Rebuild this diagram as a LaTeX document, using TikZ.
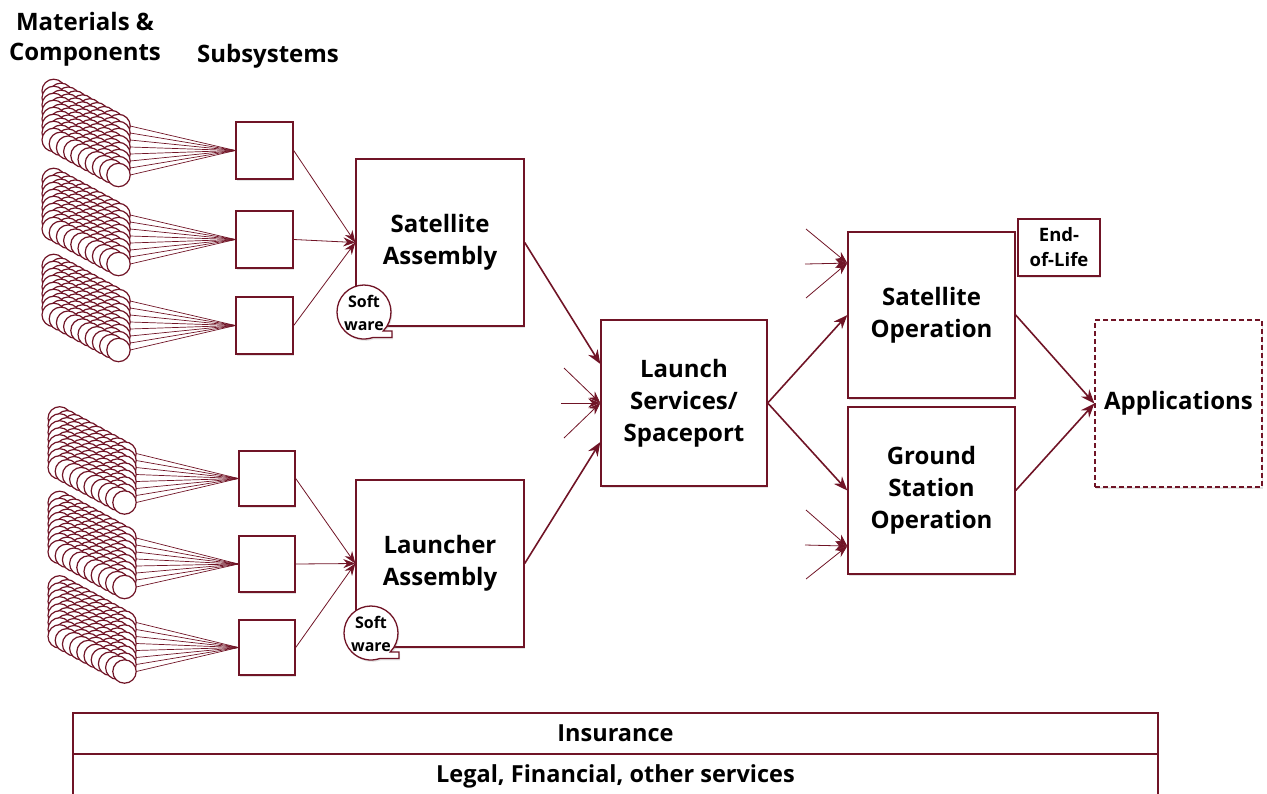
\documentclass[tikz,border=0pt]{standalone}
\usepackage{fontspec}
\setmainfont{Open Sans}
\usetikzlibrary{arrows.meta,shadows,calc}
\definecolor{wine}{RGB}{112,20,38}
\tikzset{
  shade box/.style={drop shadow={shadow xshift=1.2pt, shadow yshift=-1.8pt, opacity=0.22}},
  box/.style={draw=wine, line width=1.4pt, fill=white, inner sep=0pt, align=center,
    font=\bfseries\fontsize{24}{32}\selectfont, shade box},
  subbox/.style={box, minimum width=57pt, minimum height=57pt},
  bigbox/.style={box, minimum width=167pt, minimum height=167pt},
  bar/.style={draw=wine, line width=1.4pt, fill=white, inner sep=0pt,
    minimum width=1085pt, font=\bfseries\fontsize{23.5}{25}\selectfont},
  ball/.style={draw=wine, line width=1.2pt, fill=white},
  fan/.style={draw=wine, line width=0.7pt},
  feed/.style={draw=wine, line width=0.8pt, -{Stealth[length=12pt,width=9pt]}},
  flow/.style={draw=wine, line width=1.6pt, -{Stealth[length=14pt,width=11pt]}},
  heading/.style={align=center, font=\bfseries\fontsize{24}{30}\selectfont, inner sep=0pt},
  bubble/.style={draw=wine, line width=1.3pt, fill=white, shade box},
  bubbletext/.style={align=center, inner sep=0pt, font=\bfseries\fontsize{16}{23}\selectfont},
}
% a block of parts: 8 rows of 10 discs, given the centre of the front disc
\newcommand\ballstack[3]{%
  \foreach \j in {0,...,7}{%
    \foreach \i in {0,...,9}{%
      \draw[ball] ({#1-(9-\i)*7.2},{#2-(9-\i)*3.9-(7-\j)*7}) circle[radius=11.7];
    }%
    \coordinate (#3-\j) at ({#1+11.7},{#2-(7-\j)*7});
  }%
}
% round software tag with a square tab at its lower right
\newcommand\softtag[2]{%
  \path[bubble] (#1) ++(44.7:27) arc[start angle=44.7, end angle=-289.2, radius=27]
    -- ($(#1)+(28,25.5)$) -- ($(#1)+(28,19)$) -- cycle;
  \node[bubbletext] (#2) at ($(#1)+(0,1)$) {Soft\\ware};
}
\begin{document}
\begin{tikzpicture}[x=1pt, y=-1pt]
\useasboundingbox (0,0) rectangle (1267,793);

% headings
\node[heading] (hmat) at (85,39) {Materials \&\\Components};
\node[heading] (hsub) at (268,56) {Subsystems};

% subsystem boxes
\node[subbox] (sub1) at (264.5,150.5) {};
\node[subbox] (sub2) at (264.5,239.5) {};
\node[subbox] (sub3) at (264.5,325.5) {};
\node[subbox, minimum width=56pt, minimum height=55pt] (sub4) at (267,478.5) {};
\node[subbox, minimum width=56pt, minimum height=56pt] (sub5) at (267,564) {};
\node[subbox, minimum width=56pt, minimum height=55pt] (sub6) at (267,647.5) {};

% parts feeding the subsystems
\ballstack{118.5}{175}{pa}
\ballstack{118.5}{264}{pb}
\ballstack{118.5}{350}{pc}
\ballstack{124.5}{502.5}{pd}
\ballstack{124.5}{587}{pe}
\ballstack{124.5}{671.5}{pf}
\foreach \j in {0,...,7}{
  \draw[fan] (pa-\j) -- (sub1.west);
  \draw[fan] (pb-\j) -- (sub2.west);
  \draw[fan] (pc-\j) -- (sub3.west);
  \draw[fan] (pd-\j) -- (sub4.west);
  \draw[fan] (pe-\j) -- (sub5.west);
  \draw[fan] (pf-\j) -- (sub6.west);
}

% main chain
\node[bigbox, minimum width=168pt] (satasm) at (440,242.5) {Satellite\\Assembly};
\node[bigbox, minimum width=168pt] (lchasm) at (440,563.5) {Launcher\\Assembly};
\node[bigbox, minimum width=166pt, minimum height=166pt] (launch) at (684,403) {Launch\\Services/\\Spaceport};
\node[bigbox, minimum height=166pt] (satop) at (931.5,315) {Satellite\\Operation};
\node[bigbox] (gsop) at (931.5,490.5) {Ground\\Station\\Operation};
\node[box, minimum width=82pt, minimum height=57pt, font=\bfseries\fontsize{18.5}{25}\selectfont] (eol) at (1059,247.5) {End-\\of-Life};
\node[bigbox, dash pattern=on 5pt off 3pt, line width=1.2pt] (apps) at (1178.5,403.5) {Applications};

\coordinate (swa) at (364,312);
\coordinate (swb) at (371,633);
\softtag{swa}{softa}
\softtag{swb}{softb}

% subsystems into assemblies
\foreach \s in {sub1,sub2,sub3} \draw[feed] (\s.east) -- (satasm.west);
\foreach \s in {sub4,sub5,sub6} \draw[feed] (\s.east) -- (lchasm.west);

% assemblies into launch
\draw[flow] (satasm.east) -- (launch.155);
\draw[flow] (lchasm.east) -- (launch.205);

% other inputs
\coordinate (li1) at (564,368);
\coordinate (li2) at (561,403);
\coordinate (li3) at (564,438);
\foreach \c in {li1,li2,li3} \draw[feed] (\c) -- (launch.west);

\coordinate (satin) at ($(satop.north west)!0.19!(satop.south west)$);
\coordinate (si1) at (806,229);
\coordinate (si2) at (805,264);
\coordinate (si3) at (806,298);
\foreach \c in {si1,si2,si3} \draw[feed] (\c) -- (satin);

\coordinate (gsin) at ($(gsop.north west)!0.83!(gsop.south west)$);
\coordinate (gi1) at (806,510);
\coordinate (gi2) at (805,545);
\coordinate (gi3) at (806,579);
\foreach \c in {gi1,gi2,gi3} \draw[feed] (\c) -- (gsin);

% launch into operations, operations into applications
\draw[flow] (launch.east) -- (satop.west);
\draw[flow] (launch.east) -- (gsop.west);
\draw[flow] (satop.east) -- (apps.west);
\draw[flow] (gsop.east) -- (apps.west);

% services across the whole chain
\node[bar, minimum height=41pt] (ins) at (615.5,733.5) {Insurance};
\node[bar, minimum height=44pt] (legal) at (615.5,776) {Legal, Financial, other services};
\end{tikzpicture}
\end{document}
